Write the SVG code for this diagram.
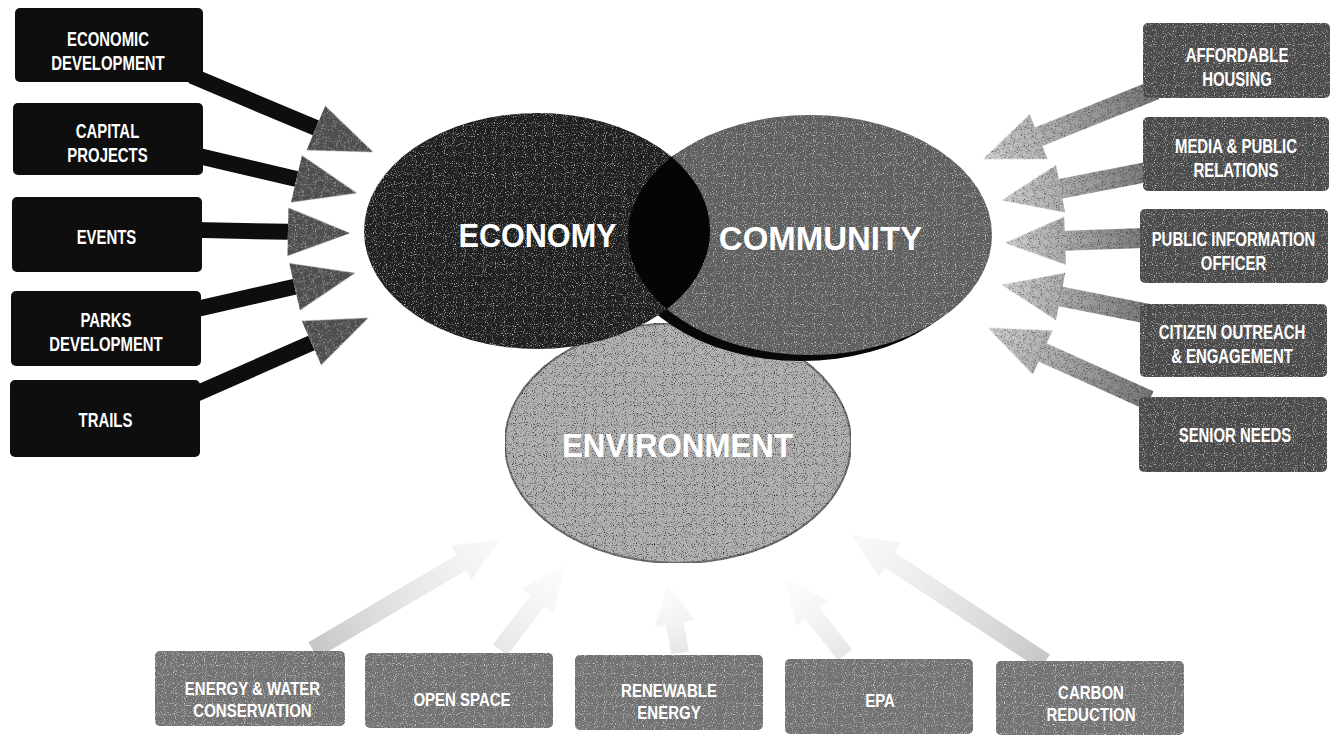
<svg xmlns="http://www.w3.org/2000/svg" width="1333" height="736" viewBox="0 0 1333 736">
<defs>
<style>
.t{font-family:"Liberation Sans",Arial,sans-serif;font-weight:bold;fill:#fff;text-anchor:middle}
.s{font-size:21px}
.b{font-size:19px}
.c{font-size:34px}
.lbox{fill:#0e0e0e}
.rbox{fill:#4a4a4a}
.bbox{fill:#727272}
.lshaft{fill:#0e0e0e}
.lhead{fill:#4c4c4c}
</style>
<filter id="gw" x="0" y="0" width="1" height="1" color-interpolation-filters="sRGB">
<feTurbulence type="fractalNoise" baseFrequency="0.9" numOctaves="1" seed="3"/>
<feColorMatrix type="matrix" values="0 0 0 0 1 0 0 0 0 1 0 0 0 0 1 3 0 0 0 -1.65"/>
<feComposite in2="SourceAlpha" operator="in" result="spk"/>
<feMerge><feMergeNode in="SourceGraphic"/><feMergeNode in="spk"/></feMerge>
</filter>
<filter id="gd" x="0" y="0" width="1" height="1" color-interpolation-filters="sRGB">
<feTurbulence type="fractalNoise" baseFrequency="0.9" numOctaves="1" seed="7"/>
<feColorMatrix type="matrix" values="0 0 0 0 0 0 0 0 0 0 0 0 0 0 0 3 0 0 0 -1.6"/>
<feComposite in2="SourceAlpha" operator="in" result="spk"/>
<feMerge><feMergeNode in="SourceGraphic"/><feMergeNode in="spk"/></feMerge>
</filter>
<linearGradient id="rg" x1="0" y1="0" x2="1" y2="0">
<stop offset="0" stop-color="#7a7a7a"/>
<stop offset="1" stop-color="#d2d2d2"/>
</linearGradient>
<linearGradient id="bg" x1="0" y1="0" x2="1" y2="0">
<stop offset="0" stop-color="#9a9a9a" stop-opacity="0.7"/>
<stop offset="1" stop-color="#cfcfcf" stop-opacity="0.15"/>
</linearGradient>
<clipPath id="econClip"><ellipse cx="537" cy="231" rx="173" ry="118"/></clipPath>
</defs>
<rect width="1333" height="736" fill="#fff"/>

<g id="connectors">
  <g transform="translate(197,78) rotate(22.8)"><path class="lshaft" d="M-6,-8 H129 V8 H-6 Z"/><path class="lhead" filter="url(#gw)" d="M129,-24 L191,0 L129,24 Z"/></g>
  <g transform="translate(203,157) rotate(13.2)"><path class="lshaft" d="M-6,-8 H96 V8 H-6 Z"/><path class="lhead" filter="url(#gw)" d="M96,-24 L158,0 L96,24 Z"/></g>
  <g transform="translate(200,230) rotate(1.2)"><path class="lshaft" d="M-6,-8 H88 V8 H-6 Z"/><path class="lhead" filter="url(#gw)" d="M88,-24 L150,0 L88,24 Z"/></g>
  <g transform="translate(201,308) rotate(-12.8)"><path class="lshaft" d="M-6,-8 H96 V8 H-6 Z"/><path class="lhead" filter="url(#gw)" d="M96,-24 L158,0 L96,24 Z"/></g>
  <g transform="translate(198,393) rotate(-23.8)"><path class="lshaft" d="M-6,-8 H124 V8 H-6 Z"/><path class="lhead" filter="url(#gw)" d="M124,-24 L186,0 L124,24 Z"/></g>
  <path transform="translate(1150,92) rotate(158.1)" fill="url(#rg)" filter="url(#gd)" d="M-6,-10 H120 V-24 L180,0 L120,24 V10 H-6 Z"/>
  <path transform="translate(1147,172) rotate(169)" fill="url(#rg)" filter="url(#gd)" d="M-6,-10 H88 V-24 L148,0 L88,24 V10 H-6 Z"/>
  <path transform="translate(1144,238) rotate(178)" fill="url(#rg)" filter="url(#gd)" d="M-6,-10 H79 V-24 L139,0 L79,24 V10 H-6 Z"/>
  <path transform="translate(1144,313) rotate(191.2)" fill="url(#rg)" filter="url(#gd)" d="M-6,-10 H85 V-24 L145,0 L85,24 V10 H-6 Z"/>
  <path transform="translate(1144,398) rotate(204.2)" fill="url(#rg)" filter="url(#gd)" d="M-6,-10 H111 V-24 L171,0 L111,24 V10 H-6 Z"/>
  <path transform="translate(313,650) rotate(-30.5)" fill="url(#bg)" opacity="0.8" d="M0,-9 H172 V-20 L217,0 L172,20 V9 H0 Z"/>
  <path transform="translate(500,650) rotate(-52.6)" fill="url(#bg)" opacity="0.35" d="M0,-9 H62 V-20 L107,0 L62,20 V9 H0 Z"/>
  <path transform="translate(680,653) rotate(-100)" fill="url(#bg)" opacity="0.35" d="M0,-9 H30 V-20 L70,0 L30,20 V9 H0 Z"/>
  <path transform="translate(845,655) rotate(-128)" fill="url(#bg)" opacity="0.35" d="M0,-9 H53 V-20 L98,0 L53,20 V9 H0 Z"/>
  <path transform="translate(1045,662) rotate(-146.7)" fill="url(#bg)" opacity="0.8" d="M0,-9 H186 V-20 L231,0 L186,20 V9 H0 Z"/>
</g>

<g id="environment">
  <ellipse cx="678" cy="443" rx="173" ry="120" fill="#b2b2b2" stroke="#707070" stroke-width="2" filter="url(#gd)"/>
  <text class="t c" transform="translate(677.5,457) scale(0.92,1)" x="0" y="0">ENVIRONMENT</text>
</g>

<g id="community">
  <ellipse cx="801" cy="241" rx="182" ry="120" fill="#080808"/>
  <ellipse cx="810" cy="235" rx="182" ry="120" fill="#5e5e5e" filter="url(#gw)"/>
  <text class="t c" transform="translate(820.5,250) scale(0.97,1)" x="0" y="0">COMMUNITY</text>
</g>

<g id="economy">
  <ellipse cx="537" cy="231" rx="173" ry="118" fill="#1f1f1f" filter="url(#gw)"/>
  <ellipse cx="810" cy="235" rx="182" ry="120" fill="#050505" clip-path="url(#econClip)"/>
  <text class="t c" transform="translate(537.5,247) scale(0.9,1)" x="0" y="0">ECONOMY</text>
</g>

<g id="economic-development">
  <rect class="lbox" x="15" y="8" width="188" height="74" rx="5"/>
  <text class="t s" transform="translate(108,0) scale(0.71,1)"><tspan x="0" y="46">ECONOMIC</tspan><tspan x="0" y="70">DEVELOPMENT</tspan></text>
</g>
<g id="capital-projects">
  <rect class="lbox" x="13" y="103" width="190" height="72" rx="5"/>
  <text class="t s" transform="translate(107.5,0) scale(0.71,1)"><tspan x="0" y="138">CAPITAL</tspan><tspan x="0" y="162">PROJECTS</tspan></text>
</g>
<g id="events">
  <rect class="lbox" x="12" y="197" width="190" height="75" rx="5"/>
  <text class="t s" transform="translate(106.5,0) scale(0.71,1)" x="0" y="244">EVENTS</text>
</g>
<g id="parks-development">
  <rect class="lbox" x="11" y="291" width="190" height="75" rx="5"/>
  <text class="t s" transform="translate(106,0) scale(0.71,1)"><tspan x="0" y="327">PARKS</tspan><tspan x="0" y="351">DEVELOPMENT</tspan></text>
</g>
<g id="trails">
  <rect class="lbox" x="10" y="380" width="190" height="77" rx="5"/>
  <text class="t s" transform="translate(105.5,0) scale(0.71,1)" x="0" y="427">TRAILS</text>
</g>

<g id="affordable-housing">
  <rect class="rbox" x="1143" y="23" width="187" height="75" rx="5" filter="url(#gw)"/>
  <text class="t s" transform="translate(1237,0) scale(0.71,1)"><tspan x="0" y="62">AFFORDABLE</tspan><tspan x="0" y="86">HOUSING</tspan></text>
</g>
<g id="media-public-relations">
  <rect class="rbox" x="1143" y="117" width="186" height="74" rx="5" filter="url(#gw)"/>
  <text class="t s" transform="translate(1236,0) scale(0.71,1)"><tspan x="0" y="153">MEDIA &amp; PUBLIC</tspan><tspan x="0" y="177">RELATIONS</tspan></text>
</g>
<g id="public-information-officer">
  <rect class="rbox" x="1140" y="209" width="188" height="74" rx="5" filter="url(#gw)"/>
  <text class="t s" transform="translate(1233.5,0) scale(0.71,1)"><tspan x="0" y="246">PUBLIC INFORMATION</tspan><tspan x="0" y="270">OFFICER</tspan></text>
</g>
<g id="citizen-outreach">
  <rect class="rbox" x="1140" y="304" width="187" height="73" rx="5" filter="url(#gw)"/>
  <text class="t s" transform="translate(1232,0) scale(0.71,1)"><tspan x="0" y="339">CITIZEN OUTREACH</tspan><tspan x="0" y="363">&amp; ENGAGEMENT</tspan></text>
</g>
<g id="senior-needs">
  <rect class="rbox" x="1139" y="397" width="188" height="75" rx="5" filter="url(#gw)"/>
  <text class="t s" transform="translate(1235,0) scale(0.71,1)" x="0" y="442">SENIOR NEEDS</text>
</g>

<g id="energy-water">
  <rect class="bbox" x="155" y="651" width="190" height="75" rx="5" filter="url(#gw)"/>
  <text class="t b" transform="translate(252.5,0) scale(0.79,1)"><tspan x="0" y="695">ENERGY &amp; WATER</tspan><tspan x="0" y="717">CONSERVATION</tspan></text>
</g>
<g id="open-space">
  <rect class="bbox" x="365" y="653" width="188" height="75" rx="5" filter="url(#gw)"/>
  <text class="t b" transform="translate(462,0) scale(0.79,1)" x="0" y="706">OPEN SPACE</text>
</g>
<g id="renewable-energy">
  <rect class="bbox" x="575" y="655" width="188" height="75" rx="5" filter="url(#gw)"/>
  <text class="t b" transform="translate(669,0) scale(0.79,1)"><tspan x="0" y="697">RENEWABLE</tspan><tspan x="0" y="719">ENERGY</tspan></text>
</g>
<g id="epa">
  <rect class="bbox" x="785" y="659" width="188" height="75" rx="5" filter="url(#gw)"/>
  <text class="t b" transform="translate(880,0) scale(0.79,1)" x="0" y="707">EPA</text>
</g>
<g id="carbon-reduction">
  <rect class="bbox" x="996" y="661" width="188" height="74" rx="5" filter="url(#gw)"/>
  <text class="t b" transform="translate(1091,0) scale(0.79,1)"><tspan x="0" y="699">CARBON</tspan><tspan x="0" y="721">REDUCTION</tspan></text>
</g>
</svg>
